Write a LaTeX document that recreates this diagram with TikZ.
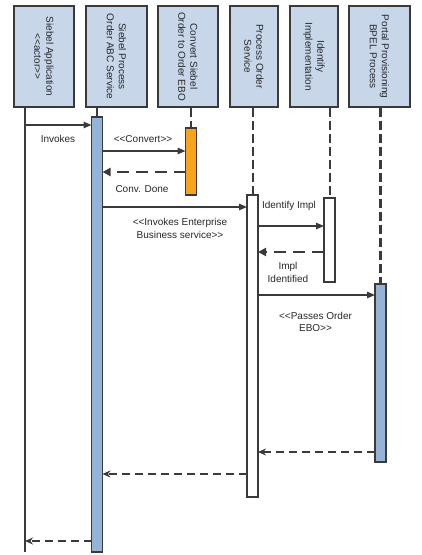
\documentclass[tikz,border=0pt]{standalone}
\usepackage{fontspec}
\setmainfont{Liberation Sans}
\usetikzlibrary{arrows.meta}
\definecolor{boxfill}{RGB}{200,214,234}
\definecolor{barblue}{RGB}{149,179,215}
\definecolor{barorange}{RGB}{247,163,27}
\definecolor{ink}{RGB}{58,58,58}
\definecolor{txt}{RGB}{40,40,40}
\newcommand{\opn}{<{}<}
\newcommand{\cls}{>{}>}
\begin{document}
\begin{tikzpicture}[x=1pt,y=1pt,
  hdr/.style={draw=ink, line width=1.4pt, fill=boxfill, rotate=-90, minimum width=101pt, inner sep=0pt, align=center, font=\fontsize{10}{12}\selectfont, text=txt},
  actbar/.style={draw=ink, line width=1.3pt, minimum width=11pt, inner sep=0pt, outer sep=0pt},
  life/.style={draw=ink, line width=2pt, dash pattern=on 9pt off 4pt},
  lifesolid/.style={draw=ink, line width=1.4pt},
  msg/.style={draw=ink, line width=1.3pt, -{Triangle[length=8pt,width=6.5pt]}},
  retthick/.style={draw=ink, line width=2.5pt, dash pattern=on 12pt off 7pt, -{Triangle[length=8pt,width=8pt]}},
  retthin/.style={draw=ink, line width=1.6pt, dash pattern=on 8pt off 5pt, -{Stealth[length=8pt,width=7pt]}},
  lbl/.style={font=\fontsize{10}{12.5}\selectfont, text=txt, align=center, inner sep=0pt}]
\useasboundingbox (0,0) rectangle (422,-555);
\fill[white] (0,0) rectangle (422,-555);

% header boxes
\node[hdr, minimum height=60pt] (h1) at (44,-56.5) {Siebel Application\\\opn actor\cls};
\node[hdr, minimum height=61pt] (h2) at (116.5,-56.5) {Siebel Process\\Order ABC Service};
\node[hdr, minimum height=60pt] (h3) at (188,-56.5) {Convert Siebel\\Order to Order EBO};
\node[hdr, minimum height=48pt] (h4) at (254,-56.5) {Process Order\\Service};
\node[hdr, minimum height=48pt] (h5) at (314,-56.5) {Identify\\Implementation};
\node[hdr, minimum height=61pt] (h6) at (379.5,-56.5) {Portal Provisioning\\BPEL Process};

% activation bars
\node[actbar, fill=barblue, minimum height=435pt] (b2) at (97,-334.5) {};
\node[actbar, fill=barorange, minimum height=67pt] (b3) at (191,-161.5) {};
\node[actbar, fill=white, minimum height=302pt] (b4) at (252.5,-346) {};
\node[actbar, fill=white, minimum height=84pt] (b5) at (329.5,-240) {};
\node[actbar, fill=barblue, minimum height=178pt] (b6) at (380.5,-373) {};

% lifelines
\coordinate (l1top) at (25,-107.5);
\coordinate (l1bot) at (25,-552);
\draw[lifesolid] (l1top) -- (l1bot);
\draw[lifesolid] (b2.north |- h2.east) -- (b2.north);
\draw[life] (b3.north |- h3.east) -- (b3.north);
\draw[life] (b4.north |- h4.east) -- (b4.north);
\draw[life] (b5.north |- h5.east) -- (b5.north);
\draw[life, line width=2.4pt] (b6.north |- h6.east) -- (b6.north);

% message levels
\coordinate (y1) at (0,-125);
\coordinate (y2) at (0,-151);
\coordinate (y3) at (0,-172);
\coordinate (y4) at (0,-207);
\coordinate (y5) at (0,-226);
\coordinate (y6) at (0,-252);
\coordinate (y7) at (0,-295);
\coordinate (y8) at (0,-452);
\coordinate (y9) at (0,-474);
\coordinate (y10) at (0,-541);

% messages
\draw[msg] (l1top |- y1) -- (b2.west |- y1);
\draw[msg] (b2.east |- y2) -- (b3.west |- y2);
\draw[retthick] (b3.west |- y3) -- (b2.east |- y3);
\draw[msg] (b2.east |- y4) -- (b4.west |- y4);
\draw[msg] (b4.east |- y5) -- (b5.west |- y5);
\draw[retthick] (b5.west |- y6) -- (b4.east |- y6);
\draw[msg] (b4.east |- y7) -- (b6.west |- y7);
\draw[retthin] (b6.west |- y8) -- (b4.east |- y8);
\draw[retthin] (b4.west |- y9) -- (b2.east |- y9);
\draw[retthin] (b2.west |- y10) -- (l1top |- y10);

% labels
\node[lbl] (t1) at (58,-139) {Invokes};
\node[lbl] (t2) at (143,-139) {\opn Convert\cls};
\node[lbl] (t3) at (142,-189) {Conv. Done};
\node[lbl] (t4) at (180,-228.5) {\opn Invokes Enterprise\\Business service\cls};
\node[lbl] (t5) at (289,-206) {Identify Impl};
\node[lbl] (t6) at (288,-272.5) {Impl\\Identified};
\node[lbl] (t7) at (315.5,-322) {\opn Passes Order\\EBO\cls};
\end{tikzpicture}
\end{document}
